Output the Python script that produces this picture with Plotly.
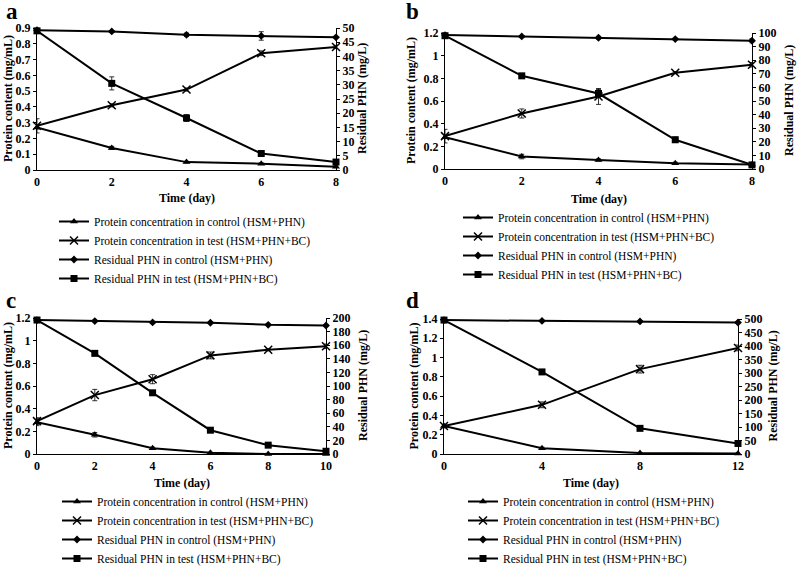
import plotly.graph_objects as go

W, H = 798, 568

# ---------------- data ----------------
days_a = [0, 2, 4, 6, 8]
prot_ctrl_a = [0.27, 0.14, 0.05, 0.04, 0.02]
prot_test_a = [0.28, 0.41, 0.51, 0.74, 0.78]
phn_ctrl_a = [49.2, 48.8, 47.6, 47.2, 46.7]
phn_test_a = [49.0, 30.5, 18.3, 5.8, 2.8]
prot_ctrl_err_a = [0.01, 0.01, 0.005, 0.005, 0.005]
prot_test_err_a = [0.045, 0.01, 0.01, 0.015, 0.01]
phn_ctrl_err_a = [0.5, 0.3, 0.6, 1.5, 0.4]
phn_test_err_a = [0.5, 2.3, 1.2, 0.8, 0.5]

days_b = [0, 2, 4, 6, 8]
prot_ctrl_b = [0.28, 0.11, 0.08, 0.05, 0.04]
prot_test_b = [0.29, 0.49, 0.64, 0.85, 0.92]
phn_ctrl_b = [98.5, 97.5, 96.5, 95.5, 94.3]
phn_test_b = [98.0, 68.5, 55.5, 21.5, 3.0]
prot_ctrl_err_b = [0.01, 0.02, 0.01, 0.01, 0.005]
prot_test_err_b = [0.06, 0.04, 0.07, 0.01, 0.02]
phn_ctrl_err_b = [0.5, 0.5, 1.0, 0.5, 1.5]
phn_test_err_b = [0.5, 1.5, 3.0, 2.0, 0.5]

days_c = [0, 2, 4, 6, 8, 10]
prot_ctrl_c = [0.28, 0.17, 0.05, 0.01, 0.0, 0.0]
prot_test_c = [0.29, 0.52, 0.66, 0.87, 0.92, 0.95]
phn_ctrl_c = [197, 195.5, 193.5, 193, 190, 189]
phn_test_c = [197, 148, 90, 35, 13, 4]
prot_ctrl_err_c = [0.03, 0.02, 0.01, 0.005, 0.005, 0.0]
prot_test_err_c = [0.03, 0.05, 0.04, 0.03, 0.01, 0.02]
phn_ctrl_err_c = [1, 1, 1, 1, 1, 1]
phn_test_err_c = [1, 1, 1, 1, 1, 2]

days_d = [0, 4, 8, 12]
prot_ctrl_d = [0.29, 0.06, 0.01, 0.005]
prot_test_d = [0.29, 0.51, 0.88, 1.10]
phn_ctrl_d = [496, 493, 491, 487]
phn_test_d = [496, 304, 95, 39]
prot_ctrl_err_d = [0.01, 0.01, 0.005, 0.005]
prot_test_err_d = [0.02, 0.03, 0.04, 0.03]
phn_ctrl_err_d = [3, 2, 2, 3]
phn_test_err_d = [3, 3, 3, 3]

series_names = [
    "Protein concentration in control (HSM+PHN)",
    "Protein concentration in test (HSM+PHN+BC)",
    "Residual PHN in control (HSM+PHN)",
    "Residual PHN in test (HSM+PHN+BC)",
]

panels = [
    dict(label="a", days=days_a, pc=prot_ctrl_a, pt=prot_test_a, hc=phn_ctrl_a, ht=phn_test_a,
         epc=prot_ctrl_err_a, ept=prot_test_err_a, ehc=phn_ctrl_err_a, eht=phn_test_err_a,
         lmax=0.9, ldt=0.1, rmax=50, rdt=5, xdt=2, xmax=8,
         px=(37, 336), py=(28, 170), leg=(54, 207), rt=362, tt=198, lab=(4, -3), lt=8),
    dict(label="b", days=days_b, pc=prot_ctrl_b, pt=prot_test_b, hc=phn_ctrl_b, ht=phn_test_b,
         epc=prot_ctrl_err_b, ept=prot_test_err_b, ehc=phn_ctrl_err_b, eht=phn_test_err_b,
         lmax=1.2, ldt=0.2, rmax=100, rdt=10, xdt=2, xmax=8,
         px=(445, 752), py=(33, 169), leg=(458, 203), rt=789, tt=199, lab=(404, -3), lt=411),
    dict(label="c", days=days_c, pc=prot_ctrl_c, pt=prot_test_c, hc=phn_ctrl_c, ht=phn_test_c,
         epc=prot_ctrl_err_c, ept=prot_test_err_c, ehc=phn_ctrl_err_c, eht=phn_test_err_c,
         lmax=1.2, ldt=0.2, rmax=200, rdt=20, xdt=2, xmax=10,
         px=(37, 326), py=(318, 454), leg=(57, 487), rt=363, tt=483, lab=(4, 286), lt=8),
    dict(label="d", days=days_d, pc=prot_ctrl_d, pt=prot_test_d, hc=phn_ctrl_d, ht=phn_test_d,
         epc=prot_ctrl_err_d, ept=prot_test_err_d, ehc=phn_ctrl_err_d, eht=phn_test_err_d,
         lmax=1.4, ldt=0.2, rmax=500, rdt=50, xdt=4, xmax=12,
         px=(444, 738), py=(319, 454), leg=(463, 487), rt=772, tt=483, lab=(404, 286), lt=413),
]

SERIF = "Liberation Serif, Times New Roman, serif"
fig = go.Figure()
layout = dict(width=W, height=H, margin=dict(l=0, r=0, t=0, b=0, autoexpand=False),
              paper_bgcolor="white", plot_bgcolor="white", annotations=[])

markers = [
    dict(symbol="triangle-up", size=7, color="black"),
    dict(symbol="x-thin", size=8, color="black", line=dict(width=1.5, color="black")),
    dict(symbol="diamond", size=6, color="black"),
    dict(symbol="square", size=7, color="black"),
]

for i, p in enumerate(panels):
    k = i + 1
    xa = "x" if k == 1 else f"x{k}"
    yl_n = 2 * k - 1
    yr_n = 2 * k
    yl = "y" if yl_n == 1 else f"y{yl_n}"
    yr = f"y{yr_n}"
    legname = "legend" if k == 1 else f"legend{k}"
    ys = [p["pc"], p["pt"], p["hc"], p["ht"]]
    es = [p["epc"], p["ept"], p["ehc"], p["eht"]]
    for j in range(4):
        fig.add_trace(go.Scatter(
            x=p["days"], y=ys[j], name=series_names[j], mode="lines+markers",
            xaxis=xa, yaxis=yl if j < 2 else yr, legend=legname,
            line=dict(color="black", width=2), marker=markers[j],
            error_y=dict(type="data", array=es[j], color="black", thickness=0.8, width=2.5),
            cliponaxis=False,
        ))
    x0, x1 = p["px"]
    yt, yb = p["py"]
    xdom = [x0 / W, x1 / W]
    ydom = [1 - yb / H, 1 - yt / H]
    tickfont = dict(family=SERIF, size=12, color="black", weight="bold")
    xkey = "xaxis" if k == 1 else f"xaxis{k}"
    ylkey = "yaxis" if yl_n == 1 else f"yaxis{yl_n}"
    yrkey = f"yaxis{yr_n}"
    layout[xkey] = dict(domain=xdom, anchor=yl, range=[0, p["xmax"]], dtick=p["xdt"], tick0=0,
                        showline=True, linecolor="black", linewidth=1.2, showgrid=False,
                        zeroline=False, ticks="", tickfont=tickfont, ticklabelstandoff=0)
    layout[ylkey] = dict(domain=ydom, anchor=xa, range=[0, p["lmax"]], dtick=p["ldt"], tick0=0,
                         showline=True, linecolor="black", linewidth=1.2, showgrid=False,
                         zeroline=False, ticks="outside", ticklen=3, tickcolor="black",
                         tickfont=tickfont)
    layout[yrkey] = dict(domain=ydom, anchor=xa, overlaying=yl, side="right",
                         range=[0, p["rmax"]], dtick=p["rdt"], tick0=0,
                         showline=True, linecolor="black", linewidth=1.2, showgrid=False,
                         zeroline=False, ticks="outside", ticklen=3, tickcolor="black",
                         tickfont=tickfont)
    lx, ly = p["leg"]
    layout[legname] = dict(x=lx / W, y=1 - ly / H, xanchor="left", yanchor="top",
                           font=dict(family=SERIF, size=11.5, color="black"),
                           bgcolor="rgba(0,0,0,0)", traceorder="normal",
                           itemclick=False, itemdoubleclick=False, tracegroupgap=0)
    ttl = dict(family=SERIF, size=12, color="black", weight="bold")
    layout["annotations"] += [
        dict(text="Protein content (mg/mL)", x=p["lt"] / W, y=1 - (yt + yb) / 2 / H, xref="paper",
             yref="paper", textangle=-90, showarrow=False, font=ttl, xanchor="center", yanchor="middle"),
        dict(text="Residual PHN (mg/L)", x=p["rt"] / W, y=1 - (yt + yb) / 2 / H, xref="paper",
             yref="paper", textangle=-90, showarrow=False, font=ttl, xanchor="center", yanchor="middle"),
        dict(text="Time (day)", x=(x0 + x1) / 2 / W, y=1 - p["tt"] / H, xref="paper",
             yref="paper", showarrow=False, font=ttl, xanchor="center", yanchor="middle"),
        dict(text=p["label"], x=p["lab"][0] / W, y=1 - p["lab"][1] / H, xref="paper",
             yref="paper", showarrow=False, xanchor="left", yanchor="top",
             font=dict(family=SERIF, size=23, color="black", weight="bold")),
    ]

fig.update_layout(**layout)
fig.write_html("out.html", config={"displayModeBar": False},
               post_script="document.body.style.margin='0';document.body.style.padding='0';")
